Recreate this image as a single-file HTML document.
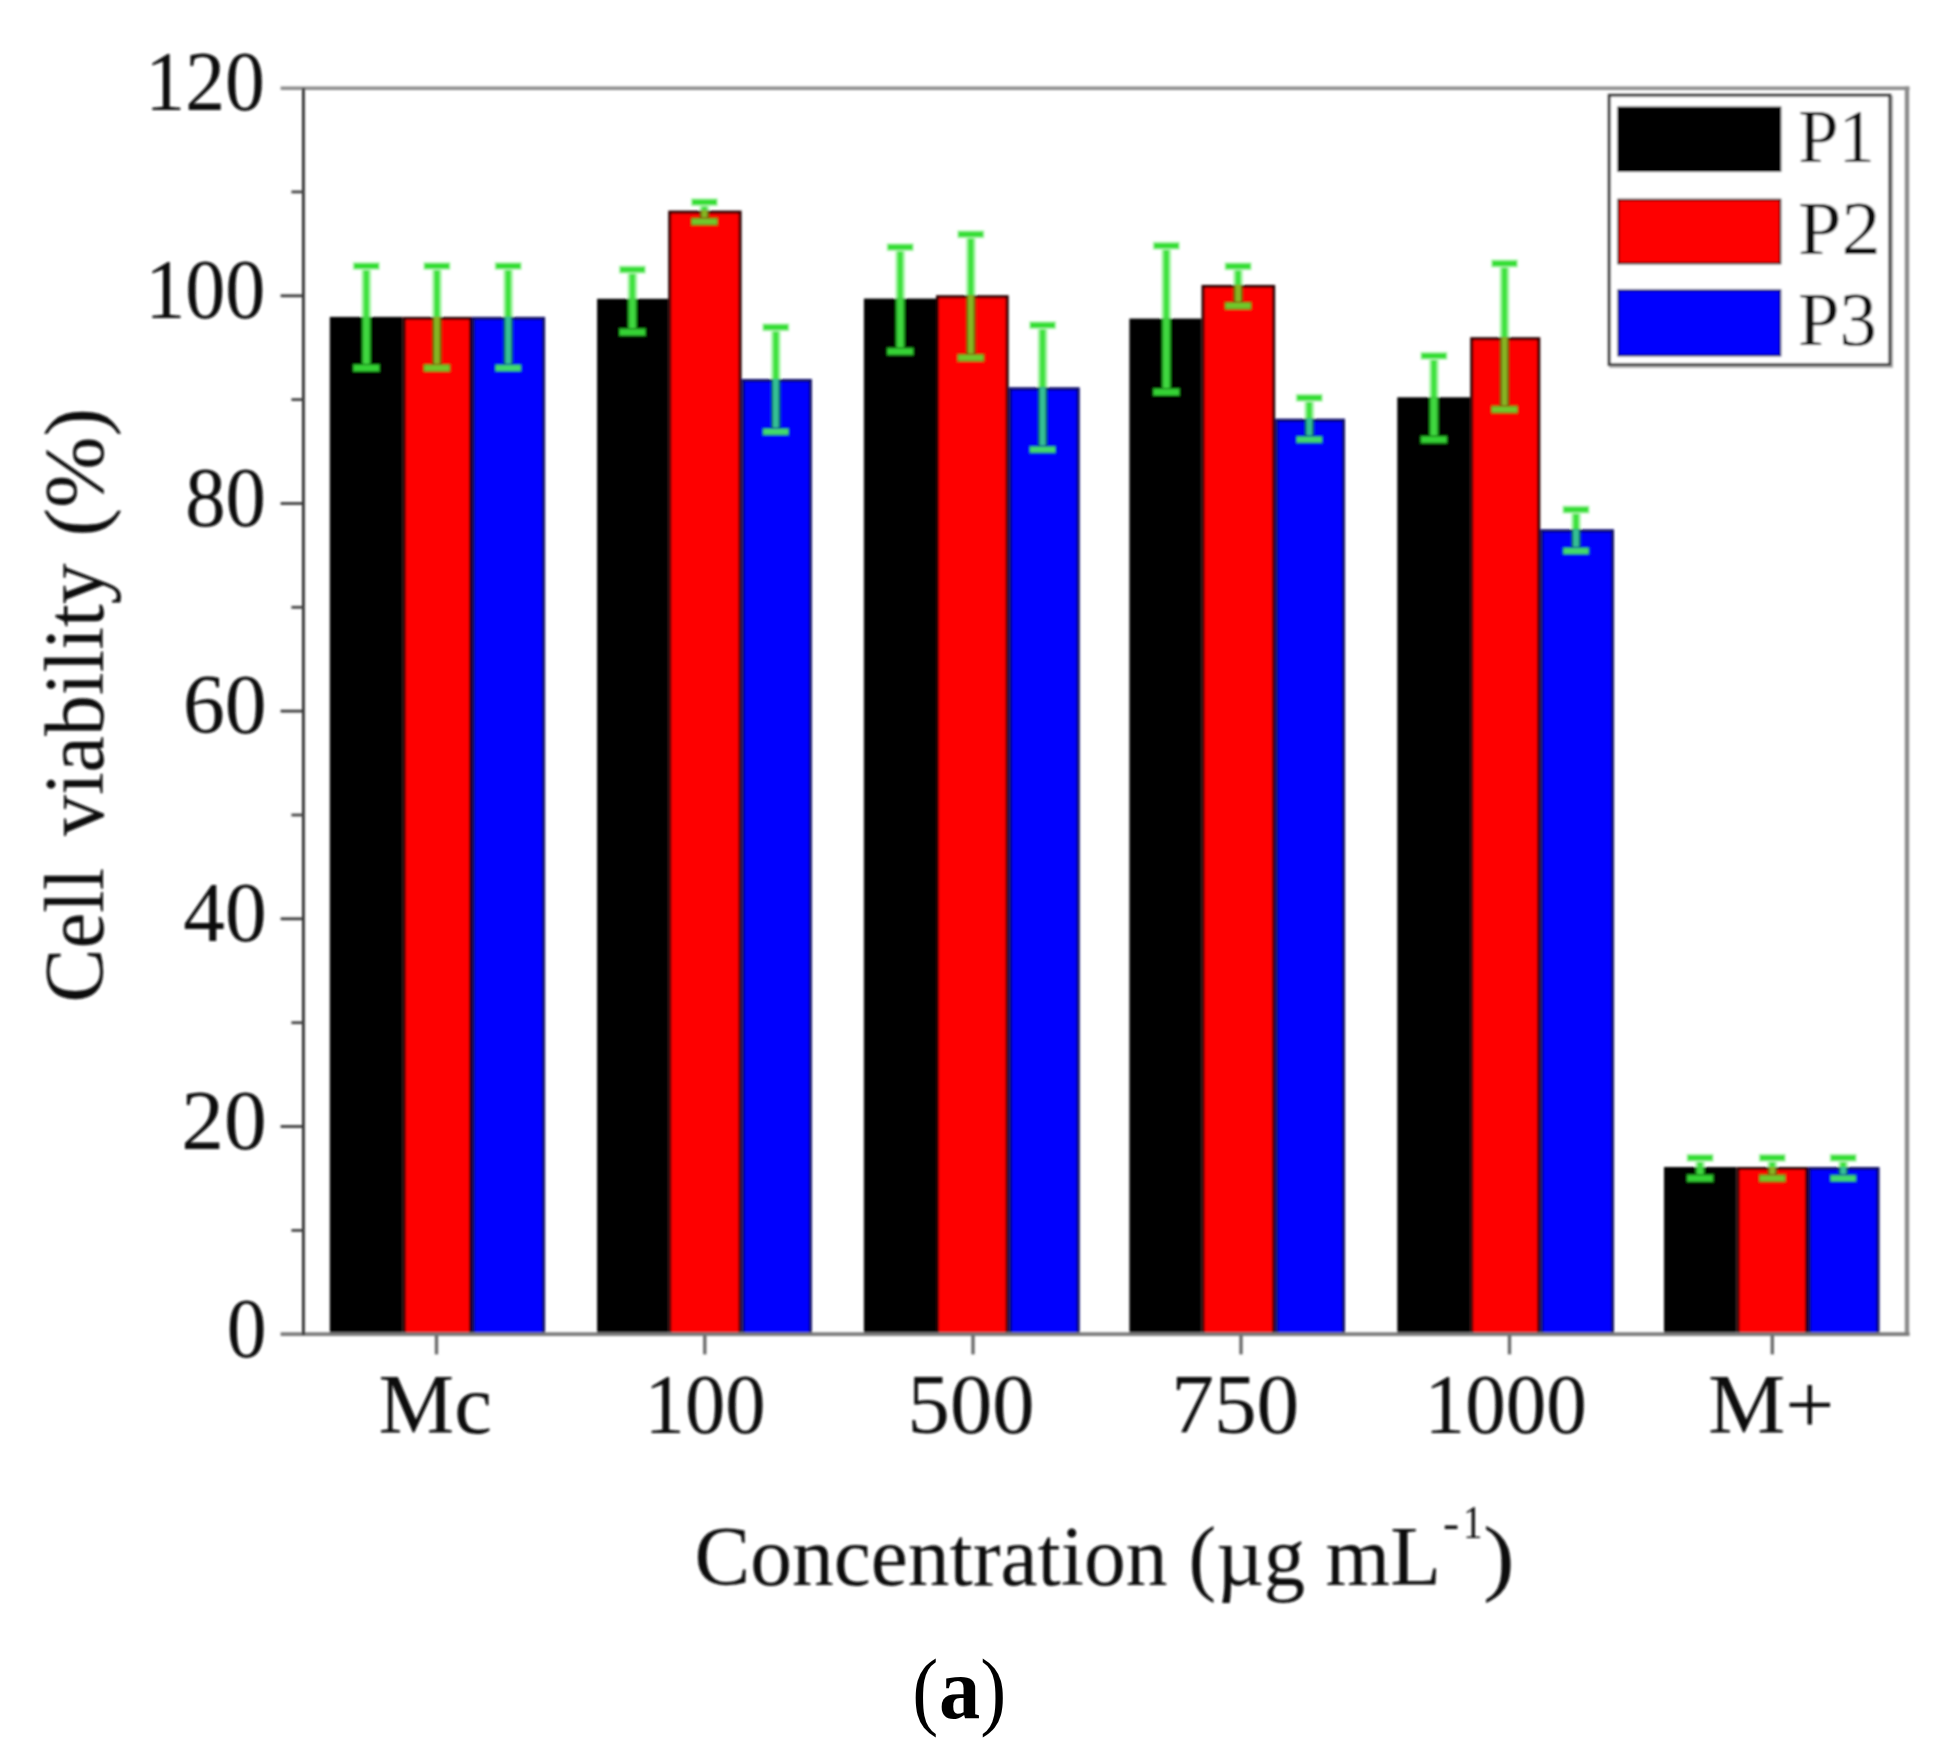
<!DOCTYPE html>
<html lang="en">
<head>
<meta charset="utf-8">
<title>Cell viability chart (a)</title>
<style>
html,body{margin:0;padding:0;background:#fff;}
body{width:1959px;height:1762px;overflow:hidden;position:relative;}
svg{display:block;position:absolute;left:0;top:0;}
text{font-family:"Liberation Serif","Times New Roman",serif;fill:#0c0c0c;}
</style>
</head>
<body>
<svg width="1959" height="1762" viewBox="0 0 1959 1762">
<defs><filter id="soft" x="0" y="0" width="1959" height="1762" filterUnits="userSpaceOnUse"><feGaussianBlur stdDeviation="0.9"/></filter></defs>
<rect x="0" y="0" width="1959" height="1762" fill="#ffffff"/>
<g id="chart" filter="url(#soft)">
<g id="bars">
<rect x="331.3" y="318.4" width="69.9" height="1015.8" fill="#000000" stroke="#000000" stroke-width="3"/>
<rect x="404.2" y="318.4" width="66.3" height="1015.8" fill="#fe0000" stroke="#2c0000" stroke-width="3"/>
<rect x="473.5" y="318.4" width="70.1" height="1015.8" fill="#0000fe" stroke="#080866" stroke-width="3"/>
<rect x="598.6" y="300.3" width="68.1" height="1033.9" fill="#000000" stroke="#000000" stroke-width="3"/>
<rect x="669.7" y="212.1" width="70.4" height="1122.1" fill="#fe0000" stroke="#2c0000" stroke-width="3"/>
<rect x="743.1" y="380.5" width="67.3" height="953.7" fill="#0000fe" stroke="#080866" stroke-width="3"/>
<rect x="865.4" y="300.1" width="69.1" height="1034.1" fill="#000000" stroke="#000000" stroke-width="3"/>
<rect x="937.5" y="296.7" width="69.7" height="1037.5" fill="#fe0000" stroke="#2c0000" stroke-width="3"/>
<rect x="1010.2" y="388.8" width="68.0" height="945.4" fill="#0000fe" stroke="#080866" stroke-width="3"/>
<rect x="1130.9" y="320.1" width="69.1" height="1014.1" fill="#000000" stroke="#000000" stroke-width="3"/>
<rect x="1203.0" y="286.4" width="70.7" height="1047.8" fill="#fe0000" stroke="#2c0000" stroke-width="3"/>
<rect x="1276.7" y="420.2" width="66.8" height="914.0" fill="#0000fe" stroke="#080866" stroke-width="3"/>
<rect x="1398.8" y="398.8" width="69.9" height="935.4" fill="#000000" stroke="#000000" stroke-width="3"/>
<rect x="1471.7" y="338.7" width="67.1" height="995.5" fill="#fe0000" stroke="#2c0000" stroke-width="3"/>
<rect x="1541.8" y="530.8" width="70.7" height="803.4" fill="#0000fe" stroke="#080866" stroke-width="3"/>
<rect x="1665.5" y="1168.5" width="69.5" height="165.7" fill="#000000" stroke="#000000" stroke-width="3"/>
<rect x="1738.0" y="1168.5" width="68.5" height="165.7" fill="#fe0000" stroke="#2c0000" stroke-width="3"/>
<rect x="1809.5" y="1168.5" width="68.5" height="165.7" fill="#0000fe" stroke="#080866" stroke-width="3"/>
</g>
<g id="axes" fill="none">
<line x1="280.6" y1="88.2" x2="1909.5" y2="88.2" stroke="#8c8c8c" stroke-width="3.6"/>
<line x1="1907" y1="86.5" x2="1907" y2="1336" stroke="#8c8c8c" stroke-width="4.4"/>
<line x1="280.6" y1="1334.1" x2="1909.5" y2="1334.1" stroke="#7c7c7c" stroke-width="3.8"/>
<line x1="303.4" y1="88" x2="303.4" y2="1335" stroke="#2e2e2e" stroke-width="2.8"/>
<line x1="291.4" y1="1230.4" x2="303" y2="1230.4" stroke="#444444" stroke-width="2.8"/>
<line x1="280.6" y1="1126.5" x2="303" y2="1126.5" stroke="#3a3a3a" stroke-width="2.8"/>
<line x1="291.4" y1="1022.7" x2="303" y2="1022.7" stroke="#444444" stroke-width="2.8"/>
<line x1="280.6" y1="918.8" x2="303" y2="918.8" stroke="#3a3a3a" stroke-width="2.8"/>
<line x1="291.4" y1="815.0" x2="303" y2="815.0" stroke="#444444" stroke-width="2.8"/>
<line x1="280.6" y1="711.1" x2="303" y2="711.1" stroke="#3a3a3a" stroke-width="2.8"/>
<line x1="291.4" y1="607.3" x2="303" y2="607.3" stroke="#444444" stroke-width="2.8"/>
<line x1="280.6" y1="503.5" x2="303" y2="503.5" stroke="#3a3a3a" stroke-width="2.8"/>
<line x1="291.4" y1="399.6" x2="303" y2="399.6" stroke="#444444" stroke-width="2.8"/>
<line x1="280.6" y1="295.8" x2="303" y2="295.8" stroke="#3a3a3a" stroke-width="2.8"/>
<line x1="291.4" y1="191.9" x2="303" y2="191.9" stroke="#444444" stroke-width="2.8"/>
<line x1="436.5" y1="1335" x2="436.5" y2="1354.4" stroke="#6a6a6a" stroke-width="3.4"/>
<line x1="704.8" y1="1335" x2="704.8" y2="1354.4" stroke="#6a6a6a" stroke-width="3.4"/>
<line x1="973.0" y1="1335" x2="973.0" y2="1354.4" stroke="#6a6a6a" stroke-width="3.4"/>
<line x1="1241.0" y1="1335" x2="1241.0" y2="1354.4" stroke="#6a6a6a" stroke-width="3.4"/>
<line x1="1509.5" y1="1335" x2="1509.5" y2="1354.4" stroke="#6a6a6a" stroke-width="3.4"/>
<line x1="1772.3" y1="1335" x2="1772.3" y2="1354.4" stroke="#6a6a6a" stroke-width="3.4"/>
</g>
<g id="errorbars">
<rect x="361.3" y="266.0" width="10.0" height="50.9" fill="#b2f7b2"/><rect x="363.4" y="266.0" width="5.8" height="50.9" fill="#3fe23f"/><rect x="361.5" y="316.9" width="9.6" height="51.1" fill="#1b971b"/><rect x="363.4" y="316.9" width="5.8" height="51.1" fill="#40d840"/><rect x="352.6" y="261.8" width="27.4" height="8.4" fill="#c9fac9"/><rect x="353.8" y="263.1" width="25" height="5.8" fill="#36de36"/><rect x="352.6" y="363.8" width="27.4" height="8.4" fill="#167a16"/><rect x="353.8" y="365.1" width="25" height="5.8" fill="#34d234"/>
<rect x="431.9" y="266.0" width="10.0" height="50.9" fill="#b2f7b2"/><rect x="434.0" y="266.0" width="5.8" height="50.9" fill="#3fe23f"/><rect x="432.1" y="316.9" width="9.6" height="51.1" fill="#6e4c00"/><rect x="434.0" y="316.9" width="5.8" height="51.1" fill="#86b424"/><rect x="423.2" y="261.8" width="27.4" height="8.4" fill="#c9fac9"/><rect x="424.4" y="263.1" width="25" height="5.8" fill="#36de36"/><rect x="423.2" y="363.8" width="27.4" height="8.4" fill="#8a5a08"/><rect x="424.4" y="365.1" width="25" height="5.8" fill="#70c82c"/>
<rect x="503.2" y="266.0" width="10.0" height="50.9" fill="#b2f7b2"/><rect x="505.3" y="266.0" width="5.8" height="50.9" fill="#3fe23f"/><rect x="503.4" y="316.9" width="9.6" height="51.1" fill="#005068"/><rect x="505.3" y="316.9" width="5.8" height="51.1" fill="#34bf94"/><rect x="494.5" y="261.8" width="27.4" height="8.4" fill="#c9fac9"/><rect x="495.7" y="263.1" width="25" height="5.8" fill="#36de36"/><rect x="494.5" y="363.8" width="27.4" height="8.4" fill="#0648a0"/><rect x="495.7" y="365.1" width="25" height="5.8" fill="#42da6c"/>
<rect x="627.4" y="269.6" width="10.0" height="29.2" fill="#b2f7b2"/><rect x="629.5" y="269.6" width="5.8" height="29.2" fill="#3fe23f"/><rect x="627.6" y="298.8" width="9.6" height="33.4" fill="#1b971b"/><rect x="629.5" y="298.8" width="5.8" height="33.4" fill="#40d840"/><rect x="618.7" y="265.4" width="27.4" height="8.4" fill="#c9fac9"/><rect x="619.9" y="266.7" width="25" height="5.8" fill="#36de36"/><rect x="618.7" y="328.0" width="27.4" height="8.4" fill="#167a16"/><rect x="619.9" y="329.3" width="25" height="5.8" fill="#34d234"/>
<rect x="699.4" y="202.2" width="10.0" height="8.4" fill="#b2f7b2"/><rect x="701.5" y="202.2" width="5.8" height="8.4" fill="#3fe23f"/><rect x="699.6" y="210.6" width="9.6" height="11.0" fill="#6e4c00"/><rect x="701.5" y="210.6" width="5.8" height="11.0" fill="#86b424"/><rect x="690.7" y="198.0" width="27.4" height="8.4" fill="#c9fac9"/><rect x="691.9" y="199.3" width="25" height="5.8" fill="#36de36"/><rect x="690.7" y="217.4" width="27.4" height="8.4" fill="#8a5a08"/><rect x="691.9" y="218.7" width="25" height="5.8" fill="#70c82c"/>
<rect x="770.8" y="327.3" width="10.0" height="51.7" fill="#b2f7b2"/><rect x="772.9" y="327.3" width="5.8" height="51.7" fill="#3fe23f"/><rect x="771.0" y="379.0" width="9.6" height="52.8" fill="#005068"/><rect x="772.9" y="379.0" width="5.8" height="52.8" fill="#34bf94"/><rect x="762.1" y="323.1" width="27.4" height="8.4" fill="#c9fac9"/><rect x="763.3" y="324.4" width="25" height="5.8" fill="#36de36"/><rect x="762.1" y="427.6" width="27.4" height="8.4" fill="#0648a0"/><rect x="763.3" y="428.9" width="25" height="5.8" fill="#42da6c"/>
<rect x="895.2" y="247.2" width="10.0" height="51.4" fill="#b2f7b2"/><rect x="897.3" y="247.2" width="5.8" height="51.4" fill="#3fe23f"/><rect x="895.4" y="298.6" width="9.6" height="52.9" fill="#1b971b"/><rect x="897.3" y="298.6" width="5.8" height="52.9" fill="#40d840"/><rect x="886.5" y="243.0" width="27.4" height="8.4" fill="#c9fac9"/><rect x="887.7" y="244.3" width="25" height="5.8" fill="#36de36"/><rect x="886.5" y="347.3" width="27.4" height="8.4" fill="#167a16"/><rect x="887.7" y="348.6" width="25" height="5.8" fill="#34d234"/>
<rect x="965.8" y="234.3" width="10.0" height="60.9" fill="#b2f7b2"/><rect x="967.9" y="234.3" width="5.8" height="60.9" fill="#3fe23f"/><rect x="966.0" y="295.2" width="9.6" height="62.6" fill="#6e4c00"/><rect x="967.9" y="295.2" width="5.8" height="62.6" fill="#86b424"/><rect x="957.1" y="230.1" width="27.4" height="8.4" fill="#c9fac9"/><rect x="958.3" y="231.4" width="25" height="5.8" fill="#36de36"/><rect x="957.1" y="353.6" width="27.4" height="8.4" fill="#8a5a08"/><rect x="958.3" y="354.9" width="25" height="5.8" fill="#70c82c"/>
<rect x="1037.6" y="325.2" width="10.0" height="62.1" fill="#b2f7b2"/><rect x="1039.7" y="325.2" width="5.8" height="62.1" fill="#3fe23f"/><rect x="1037.8" y="387.3" width="9.6" height="62.3" fill="#005068"/><rect x="1039.7" y="387.3" width="5.8" height="62.3" fill="#34bf94"/><rect x="1028.9" y="321.0" width="27.4" height="8.4" fill="#c9fac9"/><rect x="1030.1" y="322.3" width="25" height="5.8" fill="#36de36"/><rect x="1028.9" y="445.4" width="27.4" height="8.4" fill="#0648a0"/><rect x="1030.1" y="446.7" width="25" height="5.8" fill="#42da6c"/>
<rect x="1161.3" y="245.7" width="10.0" height="72.9" fill="#b2f7b2"/><rect x="1163.4" y="245.7" width="5.8" height="72.9" fill="#3fe23f"/><rect x="1161.5" y="318.6" width="9.6" height="73.5" fill="#1b971b"/><rect x="1163.4" y="318.6" width="5.8" height="73.5" fill="#40d840"/><rect x="1152.6" y="241.5" width="27.4" height="8.4" fill="#c9fac9"/><rect x="1153.8" y="242.8" width="25" height="5.8" fill="#36de36"/><rect x="1152.6" y="387.9" width="27.4" height="8.4" fill="#167a16"/><rect x="1153.8" y="389.2" width="25" height="5.8" fill="#34d234"/>
<rect x="1233.1" y="266.3" width="10.0" height="18.6" fill="#b2f7b2"/><rect x="1235.2" y="266.3" width="5.8" height="18.6" fill="#3fe23f"/><rect x="1233.3" y="284.9" width="9.6" height="20.9" fill="#6e4c00"/><rect x="1235.2" y="284.9" width="5.8" height="20.9" fill="#86b424"/><rect x="1224.4" y="262.1" width="27.4" height="8.4" fill="#c9fac9"/><rect x="1225.6" y="263.4" width="25" height="5.8" fill="#36de36"/><rect x="1224.4" y="301.6" width="27.4" height="8.4" fill="#8a5a08"/><rect x="1225.6" y="302.9" width="25" height="5.8" fill="#70c82c"/>
<rect x="1304.3" y="397.8" width="10.0" height="20.9" fill="#b2f7b2"/><rect x="1306.4" y="397.8" width="5.8" height="20.9" fill="#3fe23f"/><rect x="1304.5" y="418.7" width="9.6" height="20.9" fill="#005068"/><rect x="1306.4" y="418.7" width="5.8" height="20.9" fill="#34bf94"/><rect x="1295.6" y="393.6" width="27.4" height="8.4" fill="#c9fac9"/><rect x="1296.8" y="394.9" width="25" height="5.8" fill="#36de36"/><rect x="1295.6" y="435.4" width="27.4" height="8.4" fill="#0648a0"/><rect x="1296.8" y="436.7" width="25" height="5.8" fill="#42da6c"/>
<rect x="1428.9" y="355.8" width="10.0" height="41.5" fill="#b2f7b2"/><rect x="1431.0" y="355.8" width="5.8" height="41.5" fill="#3fe23f"/><rect x="1429.1" y="397.3" width="9.6" height="42.3" fill="#1b971b"/><rect x="1431.0" y="397.3" width="5.8" height="42.3" fill="#40d840"/><rect x="1420.2" y="351.6" width="27.4" height="8.4" fill="#c9fac9"/><rect x="1421.4" y="352.9" width="25" height="5.8" fill="#36de36"/><rect x="1420.2" y="435.4" width="27.4" height="8.4" fill="#167a16"/><rect x="1421.4" y="436.7" width="25" height="5.8" fill="#34d234"/>
<rect x="1499.5" y="263.5" width="10.0" height="73.7" fill="#b2f7b2"/><rect x="1501.6" y="263.5" width="5.8" height="73.7" fill="#3fe23f"/><rect x="1499.7" y="337.2" width="9.6" height="72.3" fill="#6e4c00"/><rect x="1501.6" y="337.2" width="5.8" height="72.3" fill="#86b424"/><rect x="1490.8" y="259.3" width="27.4" height="8.4" fill="#c9fac9"/><rect x="1492.0" y="260.6" width="25" height="5.8" fill="#36de36"/><rect x="1490.8" y="405.3" width="27.4" height="8.4" fill="#8a5a08"/><rect x="1492.0" y="406.6" width="25" height="5.8" fill="#70c82c"/>
<rect x="1571.0" y="509.6" width="10.0" height="19.7" fill="#b2f7b2"/><rect x="1573.1" y="509.6" width="5.8" height="19.7" fill="#3fe23f"/><rect x="1571.2" y="529.3" width="9.6" height="21.7" fill="#005068"/><rect x="1573.1" y="529.3" width="5.8" height="21.7" fill="#34bf94"/><rect x="1562.3" y="505.4" width="27.4" height="8.4" fill="#c9fac9"/><rect x="1563.5" y="506.7" width="25" height="5.8" fill="#36de36"/><rect x="1562.3" y="546.8" width="27.4" height="8.4" fill="#0648a0"/><rect x="1563.5" y="548.1" width="25" height="5.8" fill="#42da6c"/>
<rect x="1695.1" y="1157.8" width="10.0" height="9.2" fill="#b2f7b2"/><rect x="1697.2" y="1157.8" width="5.8" height="9.2" fill="#3fe23f"/><rect x="1695.3" y="1167.0" width="9.6" height="11.3" fill="#1b971b"/><rect x="1697.2" y="1167.0" width="5.8" height="11.3" fill="#40d840"/><rect x="1686.4" y="1153.6" width="27.4" height="8.4" fill="#c9fac9"/><rect x="1687.6" y="1154.9" width="25" height="5.8" fill="#36de36"/><rect x="1686.4" y="1174.1" width="27.4" height="8.4" fill="#167a16"/><rect x="1687.6" y="1175.4" width="25" height="5.8" fill="#34d234"/>
<rect x="1767.3" y="1157.8" width="10.0" height="9.2" fill="#b2f7b2"/><rect x="1769.4" y="1157.8" width="5.8" height="9.2" fill="#3fe23f"/><rect x="1767.5" y="1167.0" width="9.6" height="11.3" fill="#6e4c00"/><rect x="1769.4" y="1167.0" width="5.8" height="11.3" fill="#86b424"/><rect x="1758.6" y="1153.6" width="27.4" height="8.4" fill="#c9fac9"/><rect x="1759.8" y="1154.9" width="25" height="5.8" fill="#36de36"/><rect x="1758.6" y="1174.1" width="27.4" height="8.4" fill="#8a5a08"/><rect x="1759.8" y="1175.4" width="25" height="5.8" fill="#70c82c"/>
<rect x="1838.2" y="1157.8" width="10.0" height="9.2" fill="#b2f7b2"/><rect x="1840.3" y="1157.8" width="5.8" height="9.2" fill="#3fe23f"/><rect x="1838.4" y="1167.0" width="9.6" height="11.3" fill="#005068"/><rect x="1840.3" y="1167.0" width="5.8" height="11.3" fill="#34bf94"/><rect x="1829.5" y="1153.6" width="27.4" height="8.4" fill="#c9fac9"/><rect x="1830.7" y="1154.9" width="25" height="5.8" fill="#36de36"/><rect x="1829.5" y="1174.1" width="27.4" height="8.4" fill="#0648a0"/><rect x="1830.7" y="1175.4" width="25" height="5.8" fill="#42da6c"/>
</g>
<g id="legend">
<rect x="1610.9" y="97.1" width="280.5" height="269.4" fill="none" stroke="#b0b0b0" stroke-width="3"/>
<rect x="1609.3" y="95.3" width="280.5" height="269.2" fill="#ffffff" stroke="#3e3e3e" stroke-width="3"/>
<rect x="1618.3" y="107.5" width="162" height="63.4" fill="#000000" stroke="#000000" stroke-width="2"/>
<rect x="1618.3" y="199.7" width="162" height="63.7" fill="#fe0000" stroke="#2c0000" stroke-width="2"/>
<rect x="1618.3" y="290.3" width="162" height="65.2" fill="#0000fe" stroke="#080866" stroke-width="2"/>
</g>
<g id="labels">
<text x="145.3" y="110.4" font-size="84" textLength="119.6" lengthAdjust="spacingAndGlyphs">120</text>
<text x="145.2" y="318.1" font-size="84" textLength="120.2" lengthAdjust="spacingAndGlyphs">100</text>
<text x="185.2" y="525.8" font-size="84" textLength="80.8" lengthAdjust="spacingAndGlyphs">80</text>
<text x="183.0" y="733.4" font-size="84" textLength="83.7" lengthAdjust="spacingAndGlyphs">60</text>
<text x="183.3" y="941.1" font-size="84" textLength="83.4" lengthAdjust="spacingAndGlyphs">40</text>
<text x="181.2" y="1148.8" font-size="84" textLength="85.5" lengthAdjust="spacingAndGlyphs">20</text>
<text x="226.8" y="1356.5" font-size="84" textLength="39.8" lengthAdjust="spacingAndGlyphs">0</text>
<text x="378.6" y="1433.3" font-size="84" textLength="113.4" lengthAdjust="spacingAndGlyphs">Mc</text>
<text x="644.6" y="1433.3" font-size="84" textLength="120.9" lengthAdjust="spacingAndGlyphs">100</text>
<text x="907.6" y="1433.3" font-size="84" textLength="127.0" lengthAdjust="spacingAndGlyphs">500</text>
<text x="1171.2" y="1433.3" font-size="84" textLength="128.1" lengthAdjust="spacingAndGlyphs">750</text>
<text x="1424.6" y="1433.3" font-size="84" textLength="162.3" lengthAdjust="spacingAndGlyphs">1000</text>
<text x="1707.9" y="1433.3" font-size="84" textLength="126.3" lengthAdjust="spacingAndGlyphs">M+</text>
<text x="694.5" y="1584.6" font-size="84" textLength="472.9" lengthAdjust="spacingAndGlyphs">Concentration</text>
<text x="1188.6" y="1584.6" font-size="84" textLength="116.6" lengthAdjust="spacingAndGlyphs">(µg</text>
<text x="1325.6" y="1584.6" font-size="84" textLength="115.4" lengthAdjust="spacingAndGlyphs">mL</text>
<text x="1442.9" y="1538.0" font-size="46" textLength="16.2" lengthAdjust="spacingAndGlyphs">-</text>
<text x="1463.0" y="1538.0" font-size="46" textLength="19.5" lengthAdjust="spacingAndGlyphs">1</text>
<text x="1483.0" y="1584.6" font-size="84" textLength="31.7" lengthAdjust="spacingAndGlyphs">)</text>
<text x="1798.2" y="162.4" font-size="76" textLength="76.6" lengthAdjust="spacingAndGlyphs">P1</text>
<text x="1798.0" y="254.1" font-size="76" textLength="82.6" lengthAdjust="spacingAndGlyphs">P2</text>
<text x="1798.1" y="345.1" font-size="76" textLength="78.8" lengthAdjust="spacingAndGlyphs">P3</text>
<text transform="translate(102.6,1002.4) rotate(-90)" x="0" y="0" font-size="84" textLength="134.6" lengthAdjust="spacingAndGlyphs">Cell</text>
<text transform="translate(102.6,836.0) rotate(-90)" x="0" y="0" font-size="84" textLength="272.6" lengthAdjust="spacingAndGlyphs">viability</text>
<text transform="translate(102.6,536.6) rotate(-90)" x="0" y="0" font-size="84" textLength="128.8" lengthAdjust="spacingAndGlyphs">(%)</text>
</g>
</g>
<g id="caption" fill="#000000">
<text x="912.3" y="1718.8" font-size="86" textLength="26.0" lengthAdjust="spacingAndGlyphs" style="fill:#000">(</text>
<text x="938.9" y="1718.2" font-size="88" font-weight="bold" textLength="41.2" lengthAdjust="spacingAndGlyphs" style="fill:#000">a</text>
<text x="980.2" y="1718.8" font-size="86" textLength="26.0" lengthAdjust="spacingAndGlyphs" style="fill:#000">)</text>
</g>
</svg>
</body>
</html>
